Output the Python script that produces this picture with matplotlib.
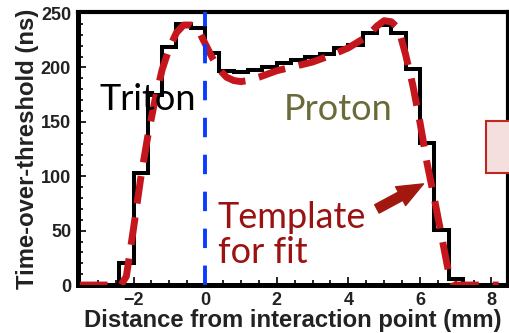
import numpy as np
import matplotlib
matplotlib.use('Agg')
import matplotlib.pyplot as plt
from matplotlib.patches import Rectangle

# measured time-over-threshold per 0.4 mm bin
bin_edges = np.round(np.arange(-3.6, 8.41, 0.4), 2)
tot_values = [0, 0, 0,
              20, 103, 175, 219, 240, 236, 213, 197, 196, 198, 200, 204,
              207, 210, 212, 218, 221, 232, 239, 232, 199, 131, 51, 6,
              0, 0, 0]

# template curve used for the fit
template_x = [-3.5, -2.6, -2.35, -2.2, -2.0, -1.8, -1.6, -1.4, -1.2, -1.0,
              -0.8, -0.6, -0.4, -0.2, 0.0, 0.2, 0.4, 0.6, 0.8, 1.0, 1.2,
              1.5, 2.0, 2.5, 3.0, 3.5, 4.0, 4.5, 4.8, 5.0, 5.2, 5.4, 5.6,
              5.8, 6.0, 6.2, 6.4, 6.6, 6.8, 6.95, 7.5, 8.2]
template_y = [0, 0, 0, 8, 52, 98, 137, 170, 198, 218,
              232, 239, 239, 235, 222, 209, 198, 191, 188, 187, 188,
              191, 197, 201, 205, 211, 218, 228, 238, 243, 242, 236, 212,
              184, 150, 112, 80, 46, 12, 0, 0, 0]

fig = plt.figure(figsize=(5.1, 3.33), dpi=100)
ax = fig.add_axes([0.153, 0.144, 0.843, 0.820])

ax.stairs(tot_values, bin_edges, color='black', linewidth=2.9, zorder=2)
ax.plot(template_x, template_y, color='#c4161c', linewidth=5,
        dashes=(4, 2), dash_capstyle='butt', zorder=3)
ax.axvline(0, color='#0a3cff', linewidth=2.8, dashes=(5, 4.5), zorder=4)

ax.set_xlim(-3.55, 8.46)
ax.set_ylim(0, 251)
ax.set_xticks([-2, 0, 2, 4, 6, 8])
ax.set_xticks(np.arange(-3.5, 8.5, 0.5), minor=True)
ax.set_yticks([0, 50, 100, 150, 200, 250])
ax.set_yticks(np.arange(0, 251, 10), minor=True)
ax.tick_params(which='both', direction='in', width=1.2, colors='black',
               labelcolor='#222222')
ax.tick_params(which='major', length=6, pad=5)
ax.tick_params(which='minor', length=3.5)
for lab in ax.get_xticklabels() + ax.get_yticklabels():
    lab.set_fontfamily('Liberation Sans')
    lab.set_fontweight('bold')
    lab.set_fontsize(13)

for side in ['left', 'bottom']:
    ax.spines[side].set_linewidth(3.6)
for side in ['top', 'right']:
    ax.spines[side].set_linewidth(3.0)

ax.set_xlabel('Distance from interaction point (mm)', fontfamily='Liberation Sans',
              fontweight='bold', fontsize=17.2, color='#222222', labelpad=0)
ax.set_ylabel('Time-over-threshold (ns)', fontfamily='Liberation Sans',
              fontweight='bold', fontsize=17.2, color='#222222', labelpad=1)

label_font = dict(fontfamily='Lato', fontweight='normal', fontsize=26)
ax.text(-2.95, 161, 'Triton', color='black', **label_font)
ax.text(2.2, 152, 'Proton', color='#6b6b3a', **label_font)
ax.text(0.35, 20, 'Template\nfor fit', color='#9b1212', linespacing=1.1,
        **label_font)

ax.annotate('', xy=(6.1, 93), xytext=(4.8, 70),
            arrowprops=dict(arrowstyle='simple,head_length=1.1,head_width=0.9,tail_width=0.4',
                            color='#a3180e', mutation_scale=17,
                            shrinkA=0, shrinkB=0))

# pink side box cut by the figure edge
fig.add_artist(Rectangle((0.953, 0.48), 0.06, 0.157, transform=fig.transFigure,
                         facecolor='#f4dede', edgecolor='#c0261c',
                         linewidth=1.5, zorder=10))

fig.savefig('out.png', dpi=100)
